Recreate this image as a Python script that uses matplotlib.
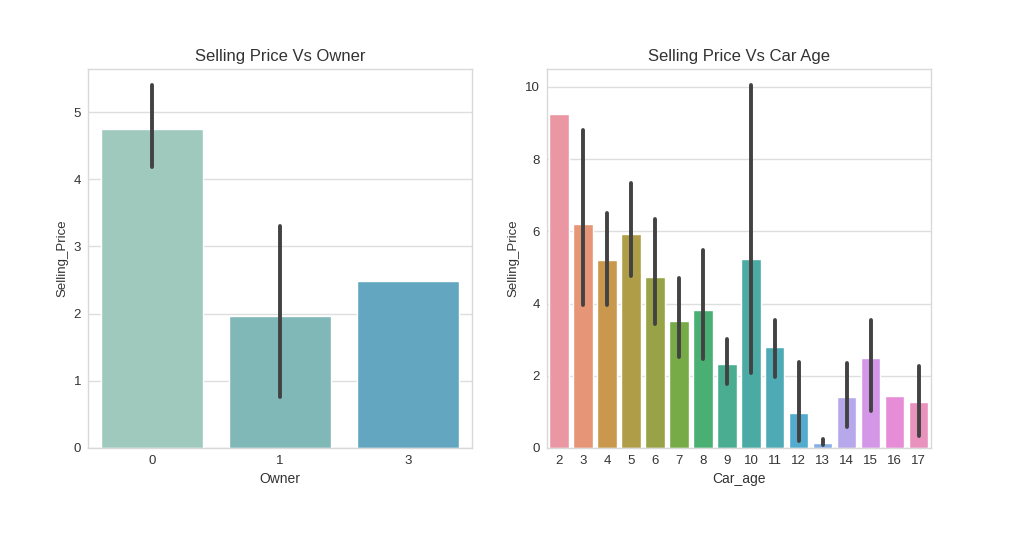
import matplotlib
matplotlib.use('Agg')
import matplotlib.pyplot as plt
import seaborn as sns

# Selling price by number of previous owners
owners = ['0', '1', '3']
owner_price = [4.75, 1.96, 2.49]
owner_ci_low = [4.19, 0.76, None]
owner_ci_high = [5.41, 3.31, None]
owner_colors = ['#9fc9bc', '#80b8b8', '#63a6bf']

# Selling price by car age
car_age = ['2', '3', '4', '5', '6', '7', '8', '9', '10', '11', '12', '13', '14', '15', '16', '17']
age_price = [9.24, 6.19, 5.20, 5.92, 4.74, 3.51, 3.81, 2.33, 5.22, 2.80, 0.96, 0.13, 1.40, 2.48, 1.45, 1.26]
age_ci_low = [None, 3.96, 3.96, 4.76, 3.43, 2.51, 2.46, 1.76, 2.08, 1.97, 0.20, 0.08, 0.57, 1.02, None, 0.33]
age_ci_high = [None, 8.80, 6.51, 7.33, 6.35, 4.70, 5.48, 3.02, 10.05, 3.54, 2.37, 0.24, 2.34, 3.54, None, 2.28]

sns.set_style('whitegrid')
plt.rcParams['font.family'] = ['Liberation Sans', 'DejaVu Sans']
plt.rcParams['text.color'] = '#333333'
plt.rcParams['axes.labelcolor'] = '#333333'
plt.rcParams['xtick.color'] = '#333333'
plt.rcParams['ytick.color'] = '#333333'

fig = plt.figure(figsize=(10.15, 5.49), dpi=100)
ax1 = fig.add_axes([0.0867, 0.184, 0.378, 0.690])
ax2 = fig.add_axes([0.539, 0.184, 0.378, 0.690])

age_colors = [sns.desaturate(c, 0.75) for c in sns.husl_palette(len(car_age), l=.7)]


def draw_bars(ax, labels, values, lows, highs, colors):
    x = range(len(labels))
    ax.bar(x, values, width=0.8, color=colors, zorder=2)
    for i, (lo, hi) in enumerate(zip(lows, highs)):
        if lo is None:
            continue
        ax.plot([i, i], [lo, hi], color='#424242', lw=2.8,
                solid_capstyle='round', zorder=3)
    ax.set_xticks(list(x))
    ax.set_xticklabels(labels)
    ax.set_xlim(-0.5, len(labels) - 0.5)
    ax.tick_params(labelsize=9.5, length=0, pad=5)
    ax.grid(True, axis='y', color='#dedede', lw=1, zorder=0)
    ax.grid(False, axis='x')
    ax.set_axisbelow(True)
    for s in ax.spines.values():
        s.set_color('#d9d9d9')
        s.set_linewidth(1)


draw_bars(ax1, owners, owner_price, owner_ci_low, owner_ci_high, owner_colors)
ax1.set_ylim(0, 5.64)
ax1.set_title('Selling Price Vs Owner', fontsize=12, pad=6)
ax1.set_xlabel('Owner', fontsize=10)
ax1.set_ylabel('Selling_Price', fontsize=9.5)

draw_bars(ax2, car_age, age_price, age_ci_low, age_ci_high, age_colors)
ax2.set_ylim(0, 10.49)
ax2.set_yticks([0, 2, 4, 6, 8, 10])
ax2.set_title('Selling Price Vs Car Age', fontsize=12, pad=6)
ax2.set_xlabel('Car_age', fontsize=10)
ax2.set_ylabel('Selling_Price', fontsize=9.5)

plt.savefig('out.png', dpi=100)
plt.close()
